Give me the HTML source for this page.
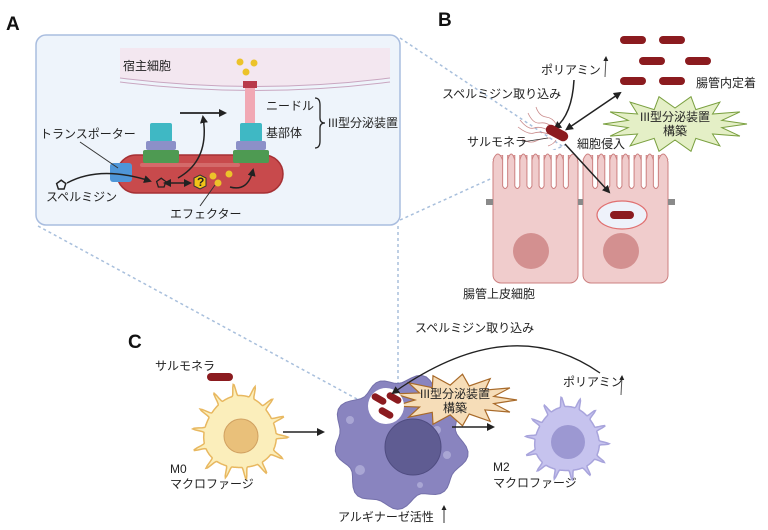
<!DOCTYPE html>
<html><head><meta charset="utf-8"><style>
html,body{margin:0;padding:0;background:#fff;width:768px;height:530px;overflow:hidden}
svg{display:block}
text{font-family:"Liberation Sans","Noto Sans CJK JP",sans-serif;font-size:12px;fill:#222}
.L{font-size:19px;font-weight:bold;fill:#111}
</style></head><body>
<svg id="s" width="768" height="530" viewBox="0 0 768 530" xmlns="http://www.w3.org/2000/svg">
<defs>
<marker id="ah" markerWidth="8" markerHeight="8" refX="6" refY="4" orient="auto" markerUnits="userSpaceOnUse"><path d="M0,0 L8,4 L0,8 z" fill="#222"/></marker>
<marker id="as" markerWidth="5" markerHeight="5" refX="4" refY="2.5" orient="auto" markerUnits="userSpaceOnUse"><path d="M0,0 L5,2.5 L0,5 z" fill="#222"/></marker>
<marker id="ahs" markerWidth="8" markerHeight="8" refX="2" refY="4" orient="auto-start-reverse" markerUnits="userSpaceOnUse"><path d="M0,0 L8,4 L0,8 z" fill="#222"/></marker>
</defs>
<g stroke="#a8bfdc" stroke-width="1.5" stroke-dasharray="3,3" fill="none">
<line x1="400" y1="38" x2="565" y2="148"/>
<line x1="400" y1="220" x2="565" y2="145"/>
<line x1="38" y1="226" x2="368" y2="405"/>
<line x1="398" y1="226" x2="398" y2="400"/>
</g>
<text x="6" y="30" class="L">A</text>
<text x="438" y="26" class="L">B</text>
<text x="128" y="348" class="L">C</text>

<!-- Panel A -->
<rect x="36" y="35" width="364" height="190" rx="10" fill="#eef4fb" stroke="#a9bddf" stroke-width="1.5"/>
<path d="M120,48 L390,48 L390,78 Q255,95 120,78 Z" fill="#f3e7f0"/>
<path d="M120,78 Q255,95 390,78" stroke="#c9a6c0" fill="none" stroke-width="1"/>
<path d="M120,82 Q255,99 390,82" stroke="#c9a6c0" fill="none" stroke-width="1"/>
<text x="123" y="70">宿主細胞</text>
<circle cx="240" cy="62" r="3.5" fill="#ecc32a"/><circle cx="254" cy="63" r="3.5" fill="#ecc32a"/><circle cx="246" cy="72" r="3.5" fill="#ecc32a"/>
<rect x="117" y="155" width="166" height="38" rx="19" fill="#c84a4c" stroke="#a63034" stroke-width="1.5"/>
<rect x="140" y="163" width="100" height="4" rx="2" fill="#d46a6a"/>
<rect x="245" y="88" width="10" height="37" fill="#f1a8b4"/>
<rect x="243" y="81" width="14" height="7" fill="#b83a4a"/>
<g>
<rect x="150" y="123" width="22" height="19" rx="2" fill="#3fb8c4"/>
<rect x="146" y="141" width="30" height="9" rx="2" fill="#8c90c8"/>
<rect x="143" y="150" width="36" height="13" rx="2" fill="#4e9a52"/>
<rect x="240" y="123" width="22" height="19" rx="2" fill="#3fb8c4"/>
<rect x="236" y="141" width="30" height="9" rx="2" fill="#8c90c8"/>
<rect x="233" y="150" width="36" height="13" rx="2" fill="#4e9a52"/>
</g>
<rect x="110" y="163" width="22" height="19" rx="3" fill="#4f96d8"/>
<text x="266" y="110">ニードル</text>
<text x="266" y="137">基部体</text>
<path d="M315,98 Q320,98 320,105 L320,118 Q320,123 325,123 Q320,123 320,128 L320,141 Q320,148 315,148" stroke="#222" fill="none" stroke-width="1.3"/>
<text x="328" y="127">III型分泌装置</text>
<text x="40" y="138">トランスポーター</text>
<line x1="80" y1="142" x2="118" y2="168" stroke="#333" stroke-width="1"/>
<text x="46" y="201">スペルミジン</text>
<text x="56" y="189" font-size="11" fill="#fff" stroke="#222" stroke-width=".8">⬠</text>
<path d="M67,183 Q100,165 150,181" stroke="#222" fill="none" stroke-width="1.5" marker-end="url(#ah)"/>
<text x="156" y="187" font-size="10" fill="#fff" stroke="#222" stroke-width=".6">⬠</text>
<line x1="169" y1="183" x2="190" y2="183" stroke="#222" stroke-width="1.5" marker-end="url(#ah)" marker-start="url(#ahs)"/>
<path d="M200,175 L206,178 L206,186 L200,189 L194,186 L194,178 Z" fill="#f2c418" stroke="#333"/>
<text x="197" y="186" font-size="9" font-weight="bold">?</text>
<circle cx="213" cy="176" r="3.5" fill="#ecc32a"/><circle cx="229" cy="174" r="3.5" fill="#ecc32a"/><circle cx="218" cy="183" r="3.5" fill="#ecc32a"/>
<line x1="215" y1="185" x2="200" y2="206" stroke="#333"/>
<text x="170" y="218">エフェクター</text>
<path d="M178,178 Q210,160 203,117" stroke="#222" fill="none" stroke-width="1.5" marker-end="url(#ah)"/>
<line x1="180" y1="113" x2="225" y2="113" stroke="#222" stroke-width="1.8" marker-end="url(#ah)"/>
<path d="M230,187 Q248,192 253,170" stroke="#222" fill="none" stroke-width="1.5" marker-end="url(#ah)"/>

<!-- Panel B -->
<g id="cells"></g>
<g fill="#8b1b1f">
<rect x="620" y="36" width="26" height="8" rx="4"/><rect x="659" y="36" width="26" height="8" rx="4"/>
<rect x="639" y="57" width="26" height="8" rx="4"/><rect x="685" y="57" width="26" height="8" rx="4"/>
<rect x="620" y="77" width="26" height="8" rx="4"/><rect x="659" y="77" width="26" height="8" rx="4"/>
</g>
<text x="696" y="87">腸管内定着</text>
<text x="541" y="74">ポリアミン</text>
<line x1="605" y1="77" x2="606" y2="57" stroke="#555" stroke-width="1" marker-end="url(#as)"/>
<text x="442" y="98">スペルミジン取り込み</text>
<path d="M574,80 Q572,115 555,128" stroke="#222" fill="none" stroke-width="1.5" marker-end="url(#ah)"/>
<g stroke="#c98a8a" fill="none" stroke-width=".8">
<path d="M548,130 q-8,-4 -14,-2 t-14,-8"/><path d="M548,134 q-8,-3 -14,-1 t-16,-6"/><path d="M552,127 q-5,-5 -12,-4 t-12,-10"/><path d="M550,138 q-8,0 -14,3 t-14,-2"/><path d="M556,124 q-3,-6 -10,-7 t-10,-10"/><path d="M556,140 q-2,4 -8,6"/>
</g>
<rect x="545" y="128" width="24" height="10" rx="5" fill="#8b1b1f" transform="rotate(28 557 133)"/>
<text x="467" y="146">サルモネラ</text>
<line x1="522" y1="142" x2="548" y2="138" stroke="#333" stroke-width=".8"/>
<line x1="570" y1="127" x2="620" y2="93" stroke="#222" stroke-width="1.5" marker-end="url(#ah)" marker-start="url(#ahs)"/>
<text x="577" y="148">細胞侵入</text>
<line x1="565" y1="144" x2="609" y2="192" stroke="#222" stroke-width="1.5" marker-end="url(#ah)"/>
<g id="burstB"></g>
<rect x="486" y="199" width="7" height="6" fill="#8a8a8a"/><rect x="578" y="199" width="5" height="6" fill="#8a8a8a"/><rect x="668" y="199" width="7" height="6" fill="#8a8a8a"/>
<circle cx="531" cy="251" r="18" fill="#d39090"/><circle cx="621" cy="251" r="18" fill="#d39090"/>
<ellipse cx="622" cy="215" rx="25" ry="14" fill="#eef2fa" stroke="#e07070" stroke-width="1.2"/>
<rect x="610" y="211" width="24" height="8" rx="4" fill="#8b1b1f"/>
<text x="463" y="298">腸管上皮細胞</text>

<!-- Panel C -->
<text x="155" y="370">サルモネラ</text>
<rect x="207" y="373" width="26" height="8" rx="4" fill="#8b1b1f"/>
<g id="cellsC"></g>
<text x="170" y="473">M0</text><text x="170" y="488">マクロファージ</text>
<line x1="283" y1="432" x2="323" y2="432" stroke="#222" stroke-width="1.5" marker-end="url(#ah)"/>
<line x1="452" y1="427" x2="493" y2="427" stroke="#222" stroke-width="1.5" marker-end="url(#ah)"/>
<text x="493" y="471">M2</text><text x="493" y="487">マクロファージ</text>
<text x="563" y="386">ポリアミン</text>
<line x1="621" y1="395" x2="622" y2="376" stroke="#555" stroke-width="1" marker-end="url(#as)"/>
<text x="415" y="332">スペルミジン取り込み</text>
<path d="M600,373 Q510,310 393,393" stroke="#222" fill="none" stroke-width="1.3" marker-end="url(#ah)"/>
<text x="338" y="521">アルギナーゼ活性</text>
<line x1="444" y1="523" x2="444" y2="506" stroke="#333" stroke-width="1" marker-end="url(#as)"/>
</svg>
<script>
var NS="http://www.w3.org/2000/svg";
function el(p,t,a){var e=document.createElementNS(NS,t);for(var k in a)e.setAttribute(k,a[k]);p.appendChild(e);return e;}
function star(cx,cy,rx,ry,rix,riy,n){var s="";for(var i=0;i<2*n;i++){var a=Math.PI*i/n;var o=i%2==0;s+=(cx+Math.cos(a)*(o?rx:rix)).toFixed(1)+","+(cy+Math.sin(a)*(o?ry:riy)).toFixed(1)+" ";}return s;}
function spiky(cx,cy,r,n,amp){var d="";var N=360;for(var i=0;i<=N;i++){var a=2*Math.PI*i/N;var v=Math.max(0,Math.sin(a*n+0.3));var rr=r+amp*Math.pow(v,6)+1.5*Math.sin(a*3);d+=(i?"L":"M")+(cx+Math.cos(a)*rr).toFixed(1)+","+(cy+Math.sin(a)*rr).toFixed(1);}return d+"Z";}
var b=document.getElementById("burstB");
el(b,"polygon",{points:star(675,124,72,28,48,16,14),fill:"#e4efc6",stroke:"#7aa040","stroke-width":"1"});
var bt1=el(b,"text",{x:675,y:121,"text-anchor":"middle"});bt1.textContent="III型分泌装置";
var bt2=el(b,"text",{x:675,y:135,"text-anchor":"middle"});bt2.textContent="構築";
var c=document.getElementById("cells");
function cell(x,w){
el(c,"rect",{x:x,y:155,width:w,height:128,rx:8,fill:"#f0cccc",stroke:"#cc8080","stroke-width":"1"});
var n=7,step=w/n;
for(var i=1;i<n;i++){var gx=x+i*step;el(c,"path",{d:"M"+(gx-2.5)+",152 L"+(gx-2.5)+",186 Q"+gx+",191 "+(gx+2.5)+",186 L"+(gx+2.5)+",152 Z",fill:"#fff",stroke:"#cc8080","stroke-width":"1"});}
el(c,"rect",{x:x-1,y:150,width:w+2,height:5,fill:"#fff"});
for(var i=0;i<n;i++){var a=x+i*step+(i==0?0:2.5),e=x+(i+1)*step-(i==n-1?0:2.5);el(c,"path",{d:"M"+a+",160 Q"+((a+e)/2)+",148 "+e+",160",fill:"#f0cccc",stroke:"#cc8080","stroke-width":"1"});}
}
cell(493,85);cell(583,85);
var C=document.getElementById("cellsC");
el(C,"path",{d:spiky(240,433,36,14,12),fill:"#fbeebb",stroke:"#e8b860","stroke-width":"1.5"});
el(C,"circle",{cx:241,cy:436,r:17,fill:"#e9c07a",stroke:"#d0a060"});
el(C,"path",{d:spiky(567,440,32,14,10),fill:"#c6c3ee",stroke:"#a8a4dc","stroke-width":"1.5"});
el(C,"circle",{cx:568,cy:442,r:17,fill:"#9c98d2"});
var d="";for(var i=0;i<=90;i++){var a=2*Math.PI*i/90;var r=60+4*Math.sin(a*9)+3*Math.sin(a*4);d+=(i?"L":"M")+(400+Math.cos(a)*r*1.05).toFixed(1)+","+(442+Math.sin(a)*r*1.05).toFixed(1);}
el(C,"path",{d:d+"Z",fill:"#8984bf",stroke:"#7470aa"});
[[350,420,4],[437,430,4],[360,470,5],[447,455,4],[420,485,3]].forEach(function(p){el(C,"circle",{cx:p[0],cy:p[1],r:p[2],fill:"#a9a6d4"});});
el(C,"circle",{cx:413,cy:447,r:28,fill:"#5f5c92",stroke:"#4f4c80"});
el(C,"polygon",{points:star(455,400,62,26,40,15,13),fill:"#f6ddb8",stroke:"#a86a2a","stroke-width":"1.2"});
el(C,"circle",{cx:386,cy:406,r:18,fill:"#fff"});
[[379,399,30],[394,398,30],[386,413,30]].forEach(function(p){el(C,"rect",{x:p[0]-8,y:p[1]-3.5,width:16,height:7,rx:3.5,fill:"#8b1b1f",transform:"rotate("+p[2]+" "+p[0]+" "+p[1]+")"});});
var t1=el(C,"text",{x:455,y:398,"text-anchor":"middle"});t1.textContent="III型分泌装置";
var t2=el(C,"text",{x:455,y:412,"text-anchor":"middle"});t2.textContent="構築";
</script>
</body></html>
